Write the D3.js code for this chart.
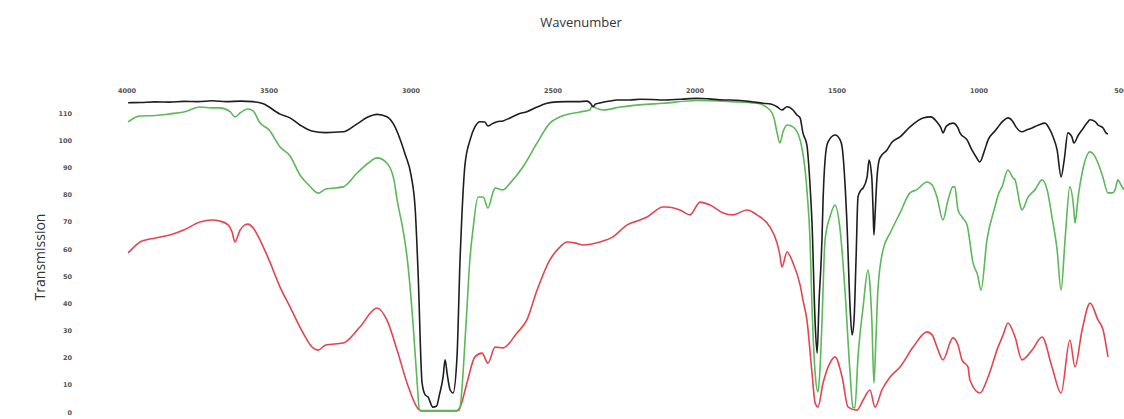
<!DOCTYPE html>
<html>
<head>
<meta charset="utf-8">
<script src="https://cdn.jsdelivr.net/npm/d3@7"></script>
<style>
  body { margin: 0; background: #fff; }
  svg { display: block; }
  .tick-label { font-family: "DejaVu Sans", sans-serif; font-size: 6.5px; font-weight: bold; fill: #555; }
  .title { font-family: "Open Sans", sans-serif; fill: #333; }
</style>
</head>
<body>
<svg id="chart"></svg>
<script>
// tick labels
const xTicks = [4000, 3500, 3000, 2500, 2000, 1500, 1000, 500];
const yTicks = [0, 10, 20, 30, 40, 50, 60, 70, 80, 90, 100, 110];

// series: [wavenumber, transmission]
const blackSeries = [
  [3996,113.9],[3950,114.0],[3900,114.2],[3850,114.1],[3800,114.4],[3750,114.3],[3700,114.6],[3650,114.3],
  [3600,114.5],[3556,114.3],[3520,113.5],[3461,109.7],[3426,108.3],[3391,105.7],[3350,103.5],[3300,102.9],
  [3239,103.2],[3190,106.1],[3150,108.7],[3120,109.6],[3085,108.7],[3060,105.7],[3040,100.9],[3020,94.7],
  [3000,87.3],[2985,74.4],[2975,51.2],[2961,10.7],[2950,6.3],[2940,5.5],[2923,1.8],[2910,2.2],[2900,6.3],
  [2887,12.9],[2880,19.2],[2872,13.6],[2862,8.1],[2852,7.0],[2838,20.3],[2827,57.1],[2821,71.9],[2810,91.0],
  [2792,100.2],[2775,105.0],[2757,106.9],[2740,106.8],[2729,105.3],[2715,106.1],[2697,106.9],[2676,107.2],
  [2651,108.3],[2620,109.8],[2592,110.6],[2556,112.3],[2521,113.7],[2486,114.2],[2451,114.3],[2410,114.3],
  [2380,114.5],[2366,113.4],[2359,112.4],[2350,113.4],[2335,113.8],[2300,114.5],[2275,114.9],[2229,114.9],
  [2194,115.2],[2150,115.1],[2113,114.9],[2050,115.2],[1993,115.5],[1950,115.3],[1900,114.9],[1877,114.9],
  [1820,114.5],[1761,113.7],[1730,113.3],[1711,112.4],[1694,111.2],[1676,112.4],[1655,111.2],[1641,109.4],
  [1630,108.3],[1620,102.8],[1606,98.3],[1595,83.6],[1588,69.6],[1577,32.8],[1570,21.7],[1563,41.3],
  [1556,55.2],[1553,63.4],[1549,78.1],[1542,92.8],[1532,99.4],[1507,102.0],[1489,100.2],[1482,97.6],
  [1465,69.6],[1454,38.7],[1447,28.4],[1440,33.9],[1433,56.0],[1426,79.2],[1415,81.8],[1408,82.5],
  [1394,86.6],[1387,92.8],[1380,89.1],[1377,85.5],[1373,74.4],[1370,65.2],[1366,72.6],[1359,86.6],
  [1349,93.6],[1324,96.5],[1306,99.4],[1278,101.3],[1243,105.0],[1197,108.3],[1170,108.7],[1148,106.8],
  [1134,104.6],[1127,102.8],[1115,105.3],[1092,106.4],[1074,104.6],[1067,102.8],[1042,100.2],[1025,96.5],
  [1010,93.9],[997,92.1],[980,96.5],[968,100.2],[944,103.5],[933,105.0],[915,107.2],[898,108.3],[880,106.8],
  [870,105.0],[849,103.2],[831,103.9],[813,104.6],[790,105.7],[768,106.4],[750,103.9],[739,101.3],[725,96.5],
  [711,86.6],[700,92.8],[687,102.8],[673,101.3],[666,99.1],[650,102.0],[637,103.9],[620,106.4],[609,107.6],
  [590,106.8],[581,105.7],[563,104.6],[553,102.8],[546,102.4]
];

const greenSeries = [
  [3996,106.8],[3975,108.3],[3954,109.0],[3900,109.2],[3849,109.8],[3800,110.5],[3743,112.3],[3700,112.0],
  [3673,112.0],[3637,110.6],[3620,108.7],[3602,110.1],[3574,111.6],[3556,110.9],[3532,106.5],[3500,103.9],
  [3461,97.6],[3426,94.3],[3391,87.3],[3360,83.6],[3327,80.6],[3300,82.1],[3239,82.9],[3190,88.0],[3150,91.7],
  [3120,93.6],[3085,91.7],[3060,85.5],[3049,78.1],[3028,67.0],[3014,57.1],[2993,32.8],[2979,11.8],[2970,0.7],
  [2950,0.5],[2900,0.5],[2850,0.5],[2830,0.6],[2827,1.8],[2806,32.8],[2792,57.1],[2782,67.0],[2764,79.2],
  [2746,79.2],[2729,75.1],[2711,81.0],[2704,82.5],[2676,81.8],[2651,84.3],[2606,90.2],[2556,99.1],[2511,106.4],
  [2475,108.7],[2405,110.5],[2370,111.2],[2363,112.7],[2350,112.0],[2324,111.2],[2264,112.3],[2194,113.1],
  [2113,113.7],[1993,114.7],[1877,114.3],[1782,113.7],[1736,111.2],[1722,108.3],[1711,102.8],[1701,99.1],
  [1690,103.2],[1676,105.7],[1655,105.0],[1630,100.2],[1606,81.8],[1595,63.4],[1588,38.7],[1577,14.4],
  [1567,7.4],[1560,15.5],[1553,32.8],[1542,63.4],[1525,71.8],[1507,76.2],[1489,67.0],[1472,44.9],[1454,14.4],
  [1444,1.8],[1437,1.5],[1426,20.3],[1408,38.7],[1391,52.3],[1384,46.8],[1377,32.8],[1370,10.7],[1363,26.5],
  [1356,44.9],[1338,59.7],[1313,65.9],[1278,73.3],[1243,80.7],[1220,81.8],[1183,84.7],[1165,83.6],[1148,79.2],
  [1127,70.7],[1109,78.1],[1092,82.9],[1085,82.9],[1074,74.4],[1060,71.8],[1042,68.9],[1021,54.9],[1005,50.5],
  [993,44.9],[972,63.4],[944,75.5],[930,80.7],[919,82.9],[898,89.1],[880,86.2],[873,85.5],[855,76.2],[849,74.4],
  [827,79.2],[803,81.8],[778,85.5],[760,81.8],[743,71.8],[725,59.7],[711,44.9],[697,63.4],[680,82.9],[666,74.4],
  [662,69.6],[650,79.9],[637,88.0],[609,95.8],[595,94.7],[581,91.7],[563,86.2],[546,80.7],[530,80.7],[521,81.8],
  [511,85.5],[500,83.6],[489,81.8]
];

const redSeries = [
  [3996,58.6],[3975,60.8],[3954,62.6],[3900,64.1],[3849,65.2],[3800,67.0],[3743,70.0],[3700,70.7],[3673,70.3],
  [3644,68.9],[3630,66.3],[3620,62.6],[3602,67.0],[3585,68.9],[3574,69.2],[3556,67.8],[3532,63.4],[3500,56.0],
  [3461,46.0],[3426,38.7],[3380,29.1],[3345,23.6],[3327,22.8],[3300,24.7],[3239,25.4],[3180,31.3],[3120,38.3],
  [3085,33.9],[3049,22.8],[3014,10.7],[2979,1.8],[2965,0.4],[2920,0.4],[2880,0.4],[2840,0.4],[2827,1.8],
  [2803,10.7],[2775,20.3],[2750,21.7],[2729,18.0],[2704,23.9],[2676,23.6],[2627,29.1],[2592,33.9],[2556,44.9],
  [2511,56.0],[2475,60.8],[2451,62.6],[2420,62.2],[2394,61.5],[2335,62.6],[2289,64.5],[2239,68.9],[2194,70.7],
  [2169,71.8],[2113,75.5],[2099,75.5],[2053,74.4],[2018,72.6],[1982,77.3],[1947,76.2],[1901,73.3],[1866,72.6],
  [1817,74.4],[1782,72.6],[1736,68.1],[1711,62.2],[1701,57.8],[1694,53.4],[1676,58.9],[1655,54.9],[1630,46.8],
  [1620,41.3],[1606,33.9],[1588,14.4],[1577,3.3],[1567,1.8],[1549,10.7],[1525,18.0],[1507,20.3],[1482,12.9],
  [1461,1.8],[1430,0.7],[1408,4.4],[1384,8.1],[1366,1.8],[1342,8.1],[1313,12.9],[1278,16.6],[1232,23.9],
  [1183,29.5],[1165,28.4],[1148,23.9],[1127,19.2],[1092,27.3],[1074,24.7],[1060,19.2],[1039,16.6],[1032,11.8],
  [997,7.0],[968,12.9],[933,23.9],[915,28.4],[898,32.8],[873,27.6],[849,19.2],[813,22.8],[778,27.6],[743,16.6],
  [711,7.0],[680,26.5],[662,16.6],[637,30.2],[609,40.1],[581,33.9],[563,30.2],[546,20.3]
];

const width = 1124, height = 419;
const svg = d3.select("#chart").attr("width", width).attr("height", height);

const x = d3.scaleLinear().domain([4000, 500]).range([127, 1121]);
const y = d3.scaleLinear().domain([0, 110]).range([412, 113.3]);

const line = d3.line()
  .x(d => x(d[0]))
  .y(d => y(d[1]))
  .curve(d3.curveMonotoneX);

// top wavenumber labels
svg.selectAll(".xlab").data(xTicks).enter().append("text")
  .attr("class", "tick-label")
  .attr("x", d => x(d))
  .attr("y", 93)
  .attr("text-anchor", "middle")
  .text(d => d);

// left transmission labels
svg.selectAll(".ylab").data(yTicks).enter().append("text")
  .attr("class", "tick-label")
  .attr("x", 72)
  .attr("y", d => y(d) + 2.5)
  .attr("text-anchor", "end")
  .text(d => d);

svg.append("text")
  .attr("class", "title")
  .attr("x", 581)
  .attr("y", 27)
  .attr("text-anchor", "middle")
  .attr("font-size", "13px")
  .text("Wavenumber");

svg.append("text")
  .attr("class", "title")
  .attr("transform", "translate(45,257) rotate(-90)")
  .attr("text-anchor", "middle")
  .attr("font-size", "14px")
  .text("Transmission");

const series = [
  { data: redSeries, color: "#e2454f" },
  { data: greenSeries, color: "#5cb85a" },
  { data: blackSeries, color: "#1e1e1e" }
];

series.forEach(function(s) {
  svg.append("path")
    .datum(s.data)
    .attr("fill", "none")
    .attr("stroke", s.color)
    .attr("stroke-width", 1.6)
    .attr("stroke-linejoin", "round")
    .attr("d", line);
});
</script>
</body>
</html>
